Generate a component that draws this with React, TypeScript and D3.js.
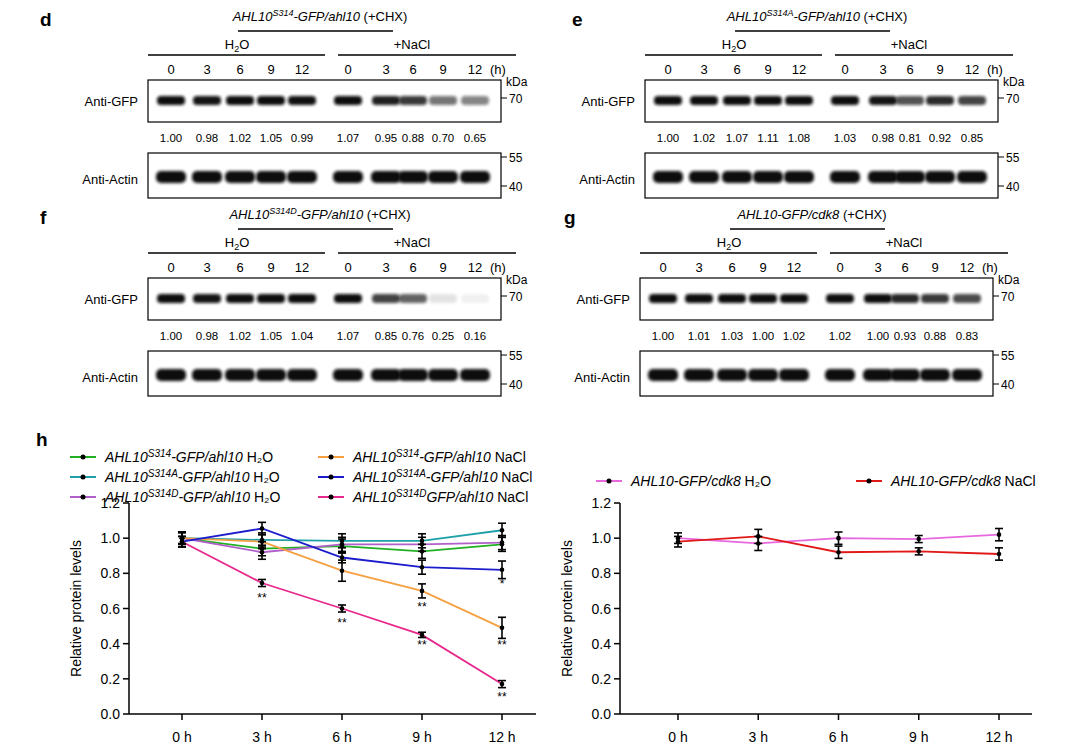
import * as d3 from 'd3';

const hours = ['0', '3', '6', '9', '12'];
const xLabels = ['0 h', '3 h', '6 h', '9 h', '12 h'];
const yTicks = [0, 0.2, 0.4, 0.6, 0.8, 1.0, 1.2];

const blotD = [1.0, 0.98, 1.02, 1.05, 0.99, 1.07, 0.95, 0.88, 0.70, 0.65];
const blotE = [1.0, 1.02, 1.07, 1.11, 1.08, 1.03, 0.98, 0.81, 0.92, 0.85];
const blotF = [1.0, 0.98, 1.02, 1.05, 1.04, 1.07, 0.85, 0.76, 0.25, 0.16];
const blotG = [1.0, 1.01, 1.03, 1.0, 1.02, 1.02, 1.0, 0.93, 0.88, 0.83];

const s314H2O = [1.0, 0.94, 0.955, 0.925, 0.965];
const s314AH2O = [1.0, 0.99, 0.985, 0.985, 1.045];
const s314DH2O = [1.0, 0.92, 0.965, 0.965, 0.975];
const s314NaCl = [1.0, 0.98, 0.815, 0.70, 0.49];
const s314ANaCl = [0.98, 1.055, 0.89, 0.835, 0.82];
const s314DNaCl = [0.98, 0.745, 0.60, 0.45, 0.17];
const errSmall = [0.035, 0.04, 0.04, 0.04, 0.04];
const errOrange = [0.03, 0.04, 0.06, 0.04, 0.06];
const errBlue = [0.03, 0.035, 0.03, 0.04, 0.05];
const errPink = [0.03, 0.02, 0.02, 0.015, 0.02];
const cdkH2O = [1.0, 0.97, 1.0, 0.995, 1.02];
const cdkNaCl = [0.98, 1.01, 0.92, 0.925, 0.91];
const errCdk = [0.03, 0.04, 0.035, 0.02, 0.035];

const FONT = 'Liberation Sans, Arial, sans-serif';
const laneX = [171, 207, 240, 271, 302, 348, 386, 413, 443, 475];

function Blot({ dx, dy, letter, letterX, mut, title, vals }: any) {
  const tx = 320;
  return (
    <g transform={`translate(${dx},${dy})`} fontFamily={FONT} fill="#000">
      <text x={letterX} y={26} fontSize={19} fontWeight="bold">{letter}</text>
      <text x={tx} y={21} fontSize={13} textAnchor="middle">
        {mut !== null ? (
          <>
            <tspan fontStyle="italic">AHL10</tspan>
            <tspan fontStyle="italic" fontSize={9} dy={-5}>{mut}</tspan>
            <tspan fontStyle="italic" dy={5}>-GFP/ahl10</tspan>
            <tspan> (+CHX)</tspan>
          </>
        ) : (
          <>
            <tspan fontStyle="italic">{title}</tspan>
            <tspan> (+CHX)</tspan>
          </>
        )}
      </text>
      <line x1={238} x2={393} y1={31} y2={31} stroke="#000" strokeWidth={1.5} />
      <text x={237} y={49} fontSize={13} textAnchor="middle">H<tspan fontSize={9} dy={3}>2</tspan><tspan dy={-3}>O</tspan></text>
      <text x={412} y={49} fontSize={13} textAnchor="middle">+NaCl</text>
      <line x1={148} x2={325} y1={55} y2={55} stroke="#000" strokeWidth={1.5} />
      <line x1={338} x2={516} y1={55} y2={55} stroke="#000" strokeWidth={1.5} />
      {laneX.map((x, i) => (
        <text key={i} x={x} y={74} fontSize={13} textAnchor="middle">{hours[i % 5]}</text>
      ))}
      <text x={490} y={74} fontSize={13}>(h)</text>
      <text x={506} y={86} fontSize={12}>kDa</text>
      <text x={138} y={106} fontSize={13} textAnchor="end">Anti-GFP</text>
      <rect x={148} y={80} width={353} height={42} fill="#fff" stroke="#000" strokeWidth={1.2} />
      {laneX.map((x, i) => (
        <rect key={i} x={x - 14} y={96} width={28} height={9} rx={4}
          fill="#111" opacity={Math.min(1, Math.pow(vals[i], 1.6))} filter="url(#blur)" />
      ))}
      <line x1={501} x2={507} y1={98} y2={98} stroke="#000" />
      <text x={509} y={103} fontSize={12}>70</text>
      {laneX.map((x, i) => (
        <text key={i} x={x} y={142} fontSize={11.5} textAnchor="middle">{vals[i].toFixed(2)}</text>
      ))}
      <text x={138} y={184} fontSize={13} textAnchor="end">Anti-Actin</text>
      <rect x={148} y={153} width={353} height={45} fill="#fff" stroke="#000" strokeWidth={1.2} />
      {laneX.map((x, i) => (
        <rect key={i} x={x - 15} y={171} width={30} height={12} rx={5} fill="#111" filter="url(#blur)" />
      ))}
      <line x1={501} x2={507} y1={157} y2={157} stroke="#000" />
      <text x={509} y={162} fontSize={12}>55</text>
      <line x1={501} x2={507} y1={186} y2={186} stroke="#000" />
      <text x={509} y={191} fontSize={12}>40</text>
    </g>
  );
}

function Plot({ x0, x1, tickX0, tickX1, series, stars }: any) {
  const y = d3.scaleLinear().domain([0, 1.2]).range([714, 503]);
  const x = d3.scalePoint<string>().domain(xLabels).range([tickX0, tickX1]);
  const line = d3.line<number>().x((_, i) => x(xLabels[i])!).y(v => y(v));
  return (
    <g fontFamily={FONT}>
      {series.map((s: any, k: number) => (
        <path key={k} d={line(s.v)!} fill="none" stroke={s.c} strokeWidth={1.8} />
      ))}
      {series.map((s: any, k: number) =>
        s.v.map((v: number, i: number) => {
          const cx = x(xLabels[i])!;
          return (
            <g key={`${k}-${i}`} stroke="#000" strokeWidth={1.6}>
              <line x1={cx} x2={cx} y1={y(v - s.e[i])} y2={y(v + s.e[i])} />
              <line x1={cx - 4} x2={cx + 4} y1={y(v - s.e[i])} y2={y(v - s.e[i])} />
              <line x1={cx - 4} x2={cx + 4} y1={y(v + s.e[i])} y2={y(v + s.e[i])} />
              <circle cx={cx} cy={y(v)} r={2.3} fill="#000" stroke="none" />
            </g>
          );
        })
      )}
      {stars.map((s: any, i: number) => (
        <text key={i} x={x(xLabels[s.i])!} y={y(s.v) + 4} fontSize={12} textAnchor="middle">{s.t}</text>
      ))}
      <line x1={x0} x2={x0} y1={y(1.2)} y2={y(0)} stroke="#000" strokeWidth={1.5} />
      <line x1={x0} x2={x1} y1={y(0)} y2={y(0)} stroke="#000" strokeWidth={1.5} />
      {yTicks.map(t => (
        <g key={t}>
          <line x1={x0 - 6} x2={x0} y1={y(t)} y2={y(t)} stroke="#000" strokeWidth={1.5} />
          <text x={x0 - 9} y={y(t) + 5} fontSize={14} textAnchor="end">{t.toFixed(1)}</text>
        </g>
      ))}
      {xLabels.map(l => (
        <g key={l}>
          <line x1={x(l)} x2={x(l)} y1={y(0)} y2={y(0) + 6} stroke="#000" strokeWidth={1.5} />
          <text x={x(l)} y={y(0) + 28} fontSize={14} textAnchor="middle">{l}</text>
        </g>
      ))}
      <text transform={`translate(${x0 - 48},${y(0.6)}) rotate(-90)`} fontSize={14} textAnchor="middle">Relative protein levels</text>
    </g>
  );
}

function LegItem({ x, yy, c, mut, tail, cond }: any) {
  return (
    <g fontFamily={FONT}>
      <line x1={x} x2={x + 26} y1={yy} y2={yy} stroke={c} strokeWidth={2} />
      <circle cx={x + 13} cy={yy} r={2.5} fill="#000" />
      <text x={x + 35} y={yy + 5} fontSize={14}>
        <tspan fontStyle="italic">AHL10</tspan>
        {mut && <tspan fontStyle="italic" fontSize={10} dy={-5}>{mut}</tspan>}
        <tspan fontStyle="italic" dy={mut ? 5 : 0}>{tail}</tspan>
        <tspan> {cond}</tspan>
      </text>
    </g>
  );
}

export default function App() {
  const left = [
    { v: s314H2O, e: errSmall, c: '#22b022' },
    { v: s314AH2O, e: errSmall, c: '#20a0a8' },
    { v: s314DH2O, e: errSmall, c: '#b060c8' },
    { v: s314NaCl, e: errOrange, c: '#f5a040' },
    { v: s314ANaCl, e: errBlue, c: '#1c1ccc' },
    { v: s314DNaCl, e: errPink, c: '#e8288c' },
  ];
  const right = [
    { v: cdkH2O, e: errCdk, c: '#e868e0' },
    { v: cdkNaCl, e: errCdk, c: '#e01818' },
  ];
  const stars = [
    { i: 1, v: 0.66, t: '**' }, { i: 2, v: 0.52, t: '**' },
    { i: 3, v: 0.61, t: '**' }, { i: 3, v: 0.39, t: '**' },
    { i: 4, v: 0.74, t: '*' }, { i: 4, v: 0.39, t: '**' }, { i: 4, v: 0.095, t: '**' },
  ];
  return (
    <svg width={1080} height={754} style={{ position: 'absolute', left: 0, top: 0, background: '#fff' }}>
      <defs>
        <filter id="blur" x="-20%" y="-50%" width="140%" height="200%">
          <feGaussianBlur stdDeviation="1.6" />
        </filter>
      </defs>
      <Blot dx={0} dy={0} letter="d" letterX={40} mut="S314" vals={blotD} />
      <Blot dx={497} dy={0} letter="e" letterX={75} mut="S314A" vals={blotE} />
      <Blot dx={0} dy={198} letter="f" letterX={40} mut="S314D" vals={blotF} />
      <Blot dx={492} dy={198} letter="g" letterX={72} mut={null} title="AHL10-GFP/cdk8" vals={blotG} />
      <text x={36} y={446} fontSize={19} fontWeight="bold" fontFamily={FONT}>h</text>
      <LegItem x={70} yy={457} c="#22b022" mut="S314" tail="-GFP/ahl10" cond="H₂O" />
      <LegItem x={70} yy={477} c="#20a0a8" mut="S314A" tail="-GFP/ahl10" cond="H₂O" />
      <LegItem x={70} yy={497} c="#b060c8" mut="S314D" tail="-GFP/ahl10" cond="H₂O" />
      <LegItem x={318} yy={457} c="#f5a040" mut="S314" tail="-GFP/ahl10" cond="NaCl" />
      <LegItem x={318} yy={477} c="#1c1ccc" mut="S314A" tail="-GFP/ahl10" cond="NaCl" />
      <LegItem x={318} yy={497} c="#e8288c" mut="S314D" tail="GFP/ahl10" cond="NaCl" />
      <LegItem x={596} yy={481} c="#e868e0" mut={null} tail="-GFP/cdk8" cond="H₂O" />
      <LegItem x={856} yy={481} c="#e01818" mut={null} tail="-GFP/cdk8" cond="NaCl" />
      <Plot x0={129} x1={536} tickX0={182} tickX1={502} series={left} stars={stars} />
      <Plot x0={620} x1={1032} tickX0={678} tickX1={999} series={right} stars={[]} />
    </svg>
  );
}
